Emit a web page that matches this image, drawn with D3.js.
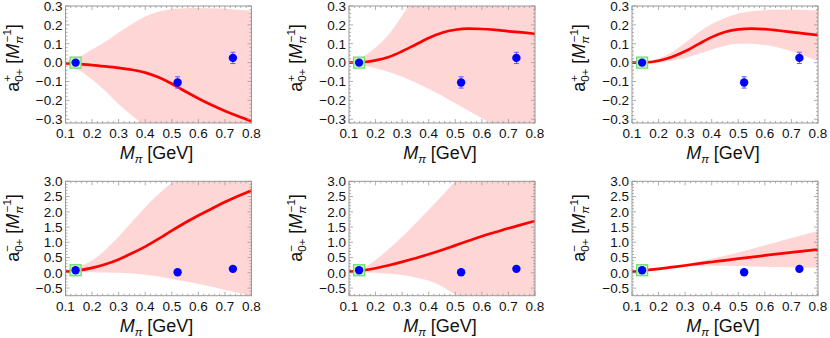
<!DOCTYPE html>
<html>
<head>
<meta charset="utf-8">
<script src="https://cdn.jsdelivr.net/npm/d3@7"></script>
<style>
  body { margin: 0; background: #fff; }
  svg text { font-family: "Liberation Sans", Arial, sans-serif; fill: #111; }
</style>
</head>
<body>
<svg id="chart" width="830" height="338"></svg>
<script>
// valores leidos a ojo de la figura
var massGrid = [0.10, 0.15, 0.20, 0.25, 0.30, 0.35, 0.40, 0.45, 0.50, 0.55, 0.60, 0.65, 0.70, 0.75, 0.80];

var xTicks = [0.1, 0.2, 0.3, 0.4, 0.5, 0.6, 0.7, 0.8];
var yTicksPlus = [-0.3, -0.2, -0.1, 0.0, 0.1, 0.2, 0.3];
var yTicksMinus = [-0.5, 0.0, 0.5, 1.0, 1.5, 2.0, 2.5, 3.0];

// puntos del lattice (el primero es el fisico, con cuadro verde)
var latticeMass = [0.138, 0.522, 0.73];
var aPlusLattice = [0.0, -0.105, 0.025];
var aPlusErr = [0.004, 0.03, 0.03];
var aMinusLattice = [0.085, 0.02, 0.13];
var aMinusErr = [0.01, 0.02, 0.02];

// a0+^+ , tres ajustes
var curvePlus1 = [-0.004, -0.008, -0.013, -0.02, -0.028, -0.038, -0.053, -0.078, -0.112, -0.152, -0.19, -0.225, -0.256, -0.284, -0.31];
var upperPlus1 = [0.008, 0.03, 0.07, 0.11, 0.16, 0.205, 0.245, 0.27, 0.283, 0.288, 0.29, 0.288, 0.285, 0.28, 0.275];
var lowerPlus1 = [-0.012, -0.04, -0.09, -0.15, -0.22, -0.28, -0.34, -0.41, -0.48, -0.55, -0.62, -0.69, -0.76, -0.83, -0.9];

var curvePlus2 = [0.0, 0.002, 0.012, 0.03, 0.06, 0.095, 0.13, 0.158, 0.174, 0.18, 0.178, 0.173, 0.166, 0.16, 0.153];
var upperPlus2 = [0.005, 0.03, 0.08, 0.15, 0.25, 0.36, 0.48, 0.6, 0.73, 0.86, 0.99, 1.12, 1.25, 1.38, 1.5];
var lowerPlus2 = [-0.005, -0.015, -0.03, -0.05, -0.075, -0.105, -0.14, -0.175, -0.215, -0.255, -0.295, -0.335, -0.375, -0.415, -0.455];

var curvePlus3 = [0.0, 0.001, 0.01, 0.03, 0.06, 0.098, 0.135, 0.162, 0.176, 0.18, 0.177, 0.17, 0.162, 0.154, 0.146];
var upperPlus3 = [0.002, 0.006, 0.022, 0.055, 0.105, 0.16, 0.205, 0.237, 0.26, 0.272, 0.278, 0.28, 0.28, 0.279, 0.277];
var lowerPlus3 = [-0.002, -0.003, 0.0, 0.01, 0.025, 0.045, 0.07, 0.09, 0.1, 0.1, 0.093, 0.08, 0.06, 0.035, 0.008];

// a0+^- , tres ajustes
var curveMinus1 = [0.04, 0.08, 0.16, 0.28, 0.44, 0.64, 0.86, 1.11, 1.38, 1.64, 1.88, 2.1, 2.32, 2.52, 2.7];
var upperMinus1 = [0.06, 0.2, 0.4, 0.75, 1.18, 1.67, 2.15, 2.58, 2.95, 3.3, 3.65, 4.0, 4.35, 4.7, 5.05];
var lowerMinus1 = [0.03, 0.03, 0.02, 0.01, 0.0, -0.02, -0.06, -0.12, -0.2, -0.28, -0.37, -0.46, -0.56, -0.66, -0.76];

var curveMinus2 = [0.04, 0.08, 0.15, 0.25, 0.36, 0.48, 0.61, 0.75, 0.9, 1.05, 1.2, 1.33, 1.46, 1.58, 1.7];
var upperMinus2 = [0.06, 0.15, 0.42, 0.78, 1.18, 1.62, 2.07, 2.53, 3.0, 3.45, 3.9, 4.35, 4.8, 5.25, 5.7];
var lowerMinus2 = [0.03, 0.02, 0.0, -0.03, -0.07, -0.15, -0.26, -0.45, -0.72, -1.0, -1.3, -1.6, -1.9, -2.2, -2.5];

var curveMinus3 = [0.03, 0.08, 0.13, 0.185, 0.24, 0.3, 0.355, 0.41, 0.465, 0.515, 0.57, 0.62, 0.67, 0.72, 0.76];
var upperMinus3 = [0.035, 0.09, 0.15, 0.215, 0.29, 0.37, 0.46, 0.56, 0.67, 0.78, 0.9, 1.02, 1.14, 1.26, 1.37];
var lowerMinus3 = [0.025, 0.07, 0.115, 0.16, 0.2, 0.225, 0.235, 0.23, 0.22, 0.21, 0.2, 0.19, 0.18, 0.175, 0.17];

var cols = [[65.5, 251.5], [349, 535], [632, 818]];
var rows = [
  {top: 6, bottom: 123, domain: [-0.32, 0.3], ticks: yTicksPlus, major: 0.1, minor: 0.02, sign: "+", pts: aPlusLattice, err: aPlusErr, titleY: 58},
  {top: 181.3, bottom: 295.7, domain: [-0.75, 3.0], ticks: yTicksMinus, major: 0.5, minor: 0.1, sign: "\u2212", pts: aMinusLattice, err: aMinusErr, titleY: 228}
];

var panels = [
  {row: 0, col: 0, curve: curvePlus1, upper: upperPlus1, lower: lowerPlus1},
  {row: 0, col: 1, curve: curvePlus2, upper: upperPlus2, lower: lowerPlus2},
  {row: 0, col: 2, curve: curvePlus3, upper: upperPlus3, lower: lowerPlus3},
  {row: 1, col: 0, curve: curveMinus1, upper: upperMinus1, lower: lowerMinus1},
  {row: 1, col: 1, curve: curveMinus2, upper: upperMinus2, lower: lowerMinus2},
  {row: 1, col: 2, curve: curveMinus3, upper: upperMinus3, lower: lowerMinus3}
];

var svg = d3.select("#chart");
var fmt = d3.format(".1f");
var minus = function(v){ return fmt(v).replace("-", "\u2212"); };

function range(a, b, step){
  var out = [];
  var n = Math.round((b - a) / step);
  for (var i = 0; i <= n; i++) out.push(+(a + i * step).toFixed(4));
  return out;
}

panels.forEach(function(p, k){
  var r = rows[p.row], c = cols[p.col];
  var x = d3.scaleLinear().domain([0.1, 0.8]).range(c);
  var y = d3.scaleLinear().domain(r.domain).range([r.bottom, r.top]);
  var g = svg.append("g");

  g.append("clipPath").attr("id", "clip" + k)
    .append("rect")
      .attr("x", c[0]).attr("y", r.top)
      .attr("width", c[1] - c[0]).attr("height", r.bottom - r.top);

  var plot = g.append("g").attr("clip-path", "url(#clip" + k + ")");

  var band = d3.area()
    .x(function(d, i){ return x(massGrid[i]); })
    .y0(function(d, i){ return y(p.lower[i]); })
    .y1(function(d, i){ return y(p.upper[i]); })
    .curve(d3.curveMonotoneX);
  plot.append("path").datum(p.curve)
    .attr("d", band).attr("fill", "#ffd6d6");

  var line = d3.line()
    .x(function(d, i){ return x(massGrid[i]); })
    .y(function(d){ return y(d); })
    .curve(d3.curveMonotoneX);
  plot.append("path").datum(p.curve)
    .attr("d", line).attr("fill", "none")
    .attr("stroke", "#f00").attr("stroke-width", 2.7);

  // cuadro verde en el punto fisico
  plot.append("rect")
    .attr("x", x(latticeMass[0]) - 5.5).attr("y", y(r.pts[0]) - 5.5)
    .attr("width", 11).attr("height", 11)
    .attr("fill", "#c9f7c0").attr("stroke", "#6fe06f").attr("stroke-width", 1.3);

  // barras de error
  var eb = plot.selectAll(".eb").data(r.pts).enter().append("g");
  eb.append("line")
    .attr("x1", function(d, i){ return x(latticeMass[i]); })
    .attr("x2", function(d, i){ return x(latticeMass[i]); })
    .attr("y1", function(d, i){ return y(d - r.err[i]); })
    .attr("y2", function(d, i){ return y(d + r.err[i]); })
    .attr("stroke", "#5a5aff").attr("stroke-width", 1);
  [-1, 1].forEach(function(s){
    eb.append("line")
      .attr("x1", function(d, i){ return x(latticeMass[i]) - 2.5; })
      .attr("x2", function(d, i){ return x(latticeMass[i]) + 2.5; })
      .attr("y1", function(d, i){ return y(d + s * r.err[i]); })
      .attr("y2", function(d, i){ return y(d + s * r.err[i]); })
      .attr("stroke", "#5a5aff").attr("stroke-width", 1);
  });

  plot.selectAll("circle").data(r.pts).enter().append("circle")
    .attr("cx", function(d, i){ return x(latticeMass[i]); })
    .attr("cy", function(d){ return y(d); })
    .attr("r", 4.2).attr("fill", "#0000ff");

  // marco con ticks estilo Mathematica
  g.append("rect")
    .attr("x", c[0]).attr("y", r.top)
    .attr("width", c[1] - c[0]).attr("height", r.bottom - r.top)
    .attr("fill", "none").attr("stroke", "#999").attr("stroke-width", 1);

  var ticks = g.append("g").attr("stroke", "#999").attr("stroke-width", 0.8);
  range(0.1, 0.8, 0.02).forEach(function(v){
    var isMajor = Math.abs(v * 10 - Math.round(v * 10)) < 1e-6;
    var len = isMajor ? 4 : 2;
    ticks.append("line").attr("x1", x(v)).attr("x2", x(v)).attr("y1", r.bottom).attr("y2", r.bottom - len);
    ticks.append("line").attr("x1", x(v)).attr("x2", x(v)).attr("y1", r.top).attr("y2", r.top + len);
  });
  range(r.ticks[0] - r.major, r.domain[1], r.minor).forEach(function(v){
    if (v < r.domain[0] - 1e-6) return;
    var isMajor = Math.abs(v / r.major - Math.round(v / r.major)) < 1e-6;
    var len = isMajor ? 4 : 2;
    ticks.append("line").attr("x1", c[0]).attr("x2", c[0] + len).attr("y1", y(v)).attr("y2", y(v));
    ticks.append("line").attr("x1", c[1]).attr("x2", c[1] - len).attr("y1", y(v)).attr("y2", y(v));
  });

  // etiquetas
  g.selectAll(".xl").data(xTicks).enter().append("text")
    .attr("x", function(d){ return x(d); })
    .attr("y", r.bottom + 15)
    .attr("text-anchor", "middle").attr("font-size", 13.5)
    .text(fmt);
  g.selectAll(".yl").data(r.ticks).enter().append("text")
    .attr("x", c[0] - 3)
    .attr("y", function(d){ return y(d) + 4.8; })
    .attr("text-anchor", "end").attr("font-size", 13.5)
    .text(minus);

  var xt = g.append("text")
    .attr("x", (c[0] + c[1]) / 2 - 2)
    .attr("y", r.bottom + 36)
    .attr("text-anchor", "middle").attr("font-size", 18);
  xt.append("tspan").attr("font-style", "italic").text("M");
  xt.append("tspan").attr("font-style", "italic").attr("font-size", 11.5).attr("dy", 4).text("\u03c0");
  xt.append("tspan").attr("dy", -4).text(" [GeV]");

  var yt = g.append("text")
    .attr("transform", "translate(" + (c[0] - 47) + "," + r.titleY + ") rotate(-90)")
    .attr("text-anchor", "middle").attr("font-size", 18);
  yt.append("tspan").text("a");
  yt.append("tspan").attr("font-size", 11.5).attr("dy", -7.5).text(r.sign);
  yt.append("tspan").attr("font-size", 11.5).attr("dx", -6.7).attr("dy", 11.5).text("0+");
  yt.append("tspan").attr("dy", -4).text(" [");
  yt.append("tspan").attr("font-style", "italic").text("M");
  yt.append("tspan").attr("font-style", "italic").attr("font-size", 11.5).attr("dy", 4).text("\u03c0");
  yt.append("tspan").attr("font-size", 11.5).attr("dx", -6.3).attr("dy", -11.5).text("\u22121");
  yt.append("tspan").attr("dy", 7.5).text("]");
});
</script>
</body>
</html>
